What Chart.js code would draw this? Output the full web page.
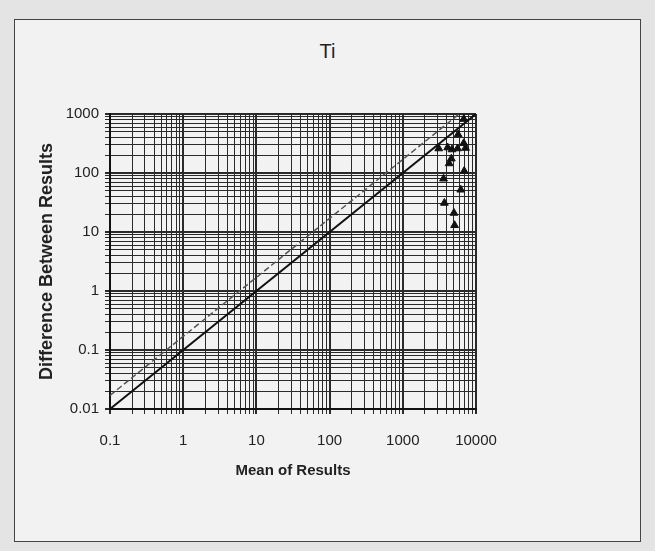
<!DOCTYPE html>
<html>
<head>
<meta charset="utf-8">
<script src="https://cdn.jsdelivr.net/npm/chart.js@4/dist/chart.umd.min.js"></script>
<style>
  html, body { margin: 0; padding: 0; }
  body { width: 655px; height: 551px; background: #e4e4e4; position: relative; overflow: hidden; }
  #page {
    position: absolute; left: 14px; top: 19px; width: 625px; height: 521px;
    border: 1px solid #444; background: #f2f2f2;
  }
  #title {
    position: absolute; left: 0; top: 40px; width: 655px; text-align: center;
    font-family: "Liberation Sans", Arial, sans-serif; font-size: 20px; color: #222;
  }
  #wrap { position: absolute; left: 0; top: 0; width: 655px; height: 551px; }
</style>
</head>
<body>
<div id="page"></div>
<div id="title">Ti</div>
<div id="wrap"><canvas id="tiChart" width="655" height="551"></canvas></div>
<script>
// tick labels (decades)
const xTickLabels = ["0.1", "1", "10", "100", "1000", "10000"];
const yTickLabels = ["0.01", "0.1", "1", "10", "100", "1000"];

// measured points: mean of results vs difference between results
const meanValues = [3100, 4100, 4700, 5600, 6800, 7200, 5700, 6800, 4600, 4300, 6900, 3600, 6200, 3700, 5000, 5100];
const diffValues = [260, 270, 250, 260, 320, 265, 450, 820, 175, 145, 108, 80, 52, 31, 21, 13];

// reference lines
const lineX = [0.1, 10000];
const solidY = [0.01, 1000];
const dashedY = [0.017, 1700];

function decadeTicks(labels) {
  const ticks = [];
  const decades = labels.map(Number);
  decades.forEach((d, i) => {
    if (i === decades.length - 1) {
      ticks.push({ value: d });
      return;
    }
    for (let m = 1; m <= 9; m++) ticks.push({ value: m * d });
  });
  return ticks;
}

function isDecade(v) {
  const l = Math.log10(v);
  return Math.abs(l - Math.round(l)) < 1e-6;
}

function labelFor(labels, v) {
  const hit = labels.find((s) => Math.abs(Number(s) - v) / v < 1e-6);
  return hit || "";
}

const points = meanValues.map((x, i) => ({ x: x, y: diffValues[i] }));

const tickFont = { family: "'Liberation Sans', Arial, sans-serif", size: 15 };
const gridWidth = (ctx) => (ctx.tick && isDecade(ctx.tick.value) ? 2 : 1);

new Chart(document.getElementById("tiChart"), {
  type: "scatter",
  data: {
    datasets: [
      {
        label: "Ti",
        data: points,
        pointStyle: "triangle",
        pointRadius: 4.5,
        backgroundColor: "#111",
        borderColor: "#111",
        borderWidth: 1,
      },
      {
        type: "line",
        label: "limit",
        data: lineX.map((x, i) => ({ x: x, y: dashedY[i] })),
        borderColor: "#555",
        borderWidth: 1.5,
        borderDash: [6, 3],
        pointRadius: 0,
        fill: false,
      },
      {
        type: "line",
        label: "equal",
        data: lineX.map((x, i) => ({ x: x, y: solidY[i] })),
        borderColor: "#111",
        borderWidth: 2,
        pointRadius: 0,
        fill: false,
      },
    ],
  },
  options: {
    responsive: false,
    animation: false,
    layout: { padding: { top: 114, left: 28, right: 179, bottom: 71 } },
    plugins: {
      legend: { display: false },
      tooltip: { enabled: false },
    },
    scales: {
      x: {
        type: "logarithmic",
        min: 0.1,
        max: 10000,
        afterBuildTicks: (scale) => { scale.ticks = decadeTicks(xTickLabels); },
        afterFit: (scale) => { scale.height = 71; },
        ticks: {
          autoSkip: false,
          maxRotation: 0,
          padding: 18,
          color: "#222",
          font: tickFont,
          callback: (value) => labelFor(xTickLabels, value),
        },
        grid: {
          color: "#2a2a2a",
          lineWidth: gridWidth,
          tickLength: 5,
        },
        border: { color: "#111", width: 2 },
        title: {
          display: true,
          text: "Mean of Results",
          color: "#222",
          padding: 0,
          font: { family: "'Liberation Sans', Arial, sans-serif", size: 15, weight: "bold" },
        },
      },
      y: {
        type: "logarithmic",
        min: 0.01,
        max: 1000,
        afterBuildTicks: (scale) => { scale.ticks = decadeTicks(yTickLabels); },
        afterFit: (scale) => { scale.width = 82; },
        ticks: {
          autoSkip: false,
          padding: 6,
          color: "#222",
          font: tickFont,
          callback: (value) => labelFor(yTickLabels, value),
        },
        grid: {
          color: "#2a2a2a",
          lineWidth: gridWidth,
          tickLength: 5,
        },
        border: { color: "#111", width: 2 },
        title: {
          display: true,
          text: "Difference Between Results",
          color: "#222",
          padding: 8,
          font: { family: "'Liberation Sans', Arial, sans-serif", size: 18, weight: "bold" },
        },
      },
    },
  },
});
</script>
</body>
</html>
